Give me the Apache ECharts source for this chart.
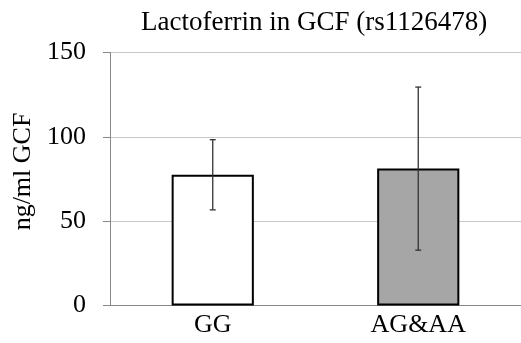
<!DOCTYPE html>
<html>
<head>
<meta charset="utf-8">
<script src="https://cdn.jsdelivr.net/npm/echarts@6/dist/echarts.min.js"></script>
<style>
  html, body { margin: 0; padding: 0; background: #fff; }
  #chart { width: 521px; height: 343px; }
</style>
</head>
<body>
<div id="chart"></div>
<script>
// data
const categories = ['GG', 'AG&AA']
const means = [77.5, 81.2]
const errLow = [56.7, 32.8]
const errHigh = [98.3, 129.5]
const barColors = ['#ffffff', '#a6a6a6']

const serif = '"Liberation Serif", "DejaVu Serif", serif'

const chart = echarts.init(document.getElementById('chart'))

chart.setOption({
  animation: false,
  title: {
    text: 'Lactoferrin in GCF (rs1126478)',
    left: 136,
    top: 4,
    textStyle: { fontFamily: serif, fontSize: 27, fontWeight: 'normal', color: '#000' }
  },
  grid: { left: 110, right: -3, top: 52.5, bottom: 37.5, containLabel: false },
  xAxis: {
    type: 'category',
    data: categories,
    axisLine: { lineStyle: { color: '#888', width: 1 } },
    axisTick: { show: false },
    axisLabel: { fontFamily: serif, fontSize: 26, color: '#000', margin: 7 }
  },
  yAxis: {
    type: 'value',
    min: 0,
    max: 150,
    interval: 50,
    name: 'ng/ml GCF',
    nameLocation: 'middle',
    nameGap: 71,
    nameTextStyle: { fontFamily: serif, fontSize: 26, color: '#000', padding: [0, 0, 0, 15] },
    axisLine: { show: true, lineStyle: { color: '#888', width: 1 } },
    axisTick: { show: true, length: 7, lineStyle: { color: '#888' } },
    axisLabel: { fontFamily: serif, fontSize: 26, color: '#000', margin: 24 },
    splitLine: { lineStyle: { color: '#c8c8c8', width: 1 } }
  },
  series: [
    {
      type: 'bar',
      barWidth: '40%',
      data: means.map((v, i) => ({
        value: v,
        itemStyle: { color: barColors[i], borderColor: '#000', borderWidth: 2 }
      }))
    },
    {
      type: 'custom',
      data: categories.map((c, i) => [i, errLow[i], errHigh[i]]),
      renderItem: function (params, api) {
        const x = api.value(0)
        const lo = api.coord([x, api.value(1)])
        const hi = api.coord([x, api.value(2)])
        const cap = 3
        const style = { stroke: '#333', lineWidth: 1.3 }
        return {
          type: 'group',
          children: [
            { type: 'line', shape: { x1: lo[0], y1: lo[1], x2: hi[0], y2: hi[1] }, style: style },
            { type: 'line', shape: { x1: lo[0] - cap, y1: lo[1], x2: lo[0] + cap, y2: lo[1] }, style: style },
            { type: 'line', shape: { x1: hi[0] - cap, y1: hi[1], x2: hi[0] + cap, y2: hi[1] }, style: style }
          ]
        }
      },
      z: 10
    }
  ]
})
</script>
</body>
</html>
